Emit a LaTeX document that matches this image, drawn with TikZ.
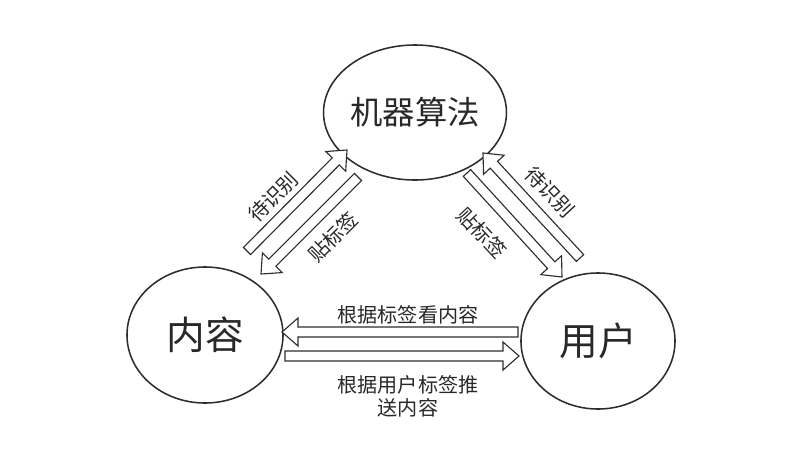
\documentclass[tikz,border=0pt]{standalone}
\usepackage{fontspec}
\usepackage{tikz}
\usetikzlibrary{calc,shapes.geometric}
\setmainfont{Noto Sans CJK SC}
\definecolor{linegray}{RGB}{45,45,45}
\definecolor{textgray}{RGB}{40,40,40}

% 空心箭头: #1 尾端, #2 箭头尖
\newcommand{\hollowarr}[2]{%
  \coordinate (#2h) at ($(#2)!0.4cm!(#1)$);
  \draw[flowarrow] ($(#1)!0.125cm!90:(#2)$) -- ($(#2h)!0.125cm!90:(#2)$)
    -- ($(#2h)!0.35cm!90:(#2)$) -- (#2) -- ($(#2h)!0.35cm!-90:(#2)$)
    -- ($(#2h)!0.125cm!-90:(#2)$) -- ($(#1)!0.125cm!-90:(#2)$) -- cycle;
}

\begin{document}
\begin{tikzpicture}[x=0.025cm, y=-0.025cm,
  bubble/.style={ellipse, draw=linegray, line width=1.1pt, inner sep=0pt, text=textgray},
  flowarrow/.style={draw=linegray, line width=0.8pt, fill=white, line join=miter},
  tag/.style={text=textgray, font=\fontsize{14.3pt}{16.4pt}\selectfont, align=center}]
\useasboundingbox (0,0) rectangle (811,456);

% 三个角色
\node[bubble, minimum width=3.95cm, minimum height=3.375cm, font=\fontsize{23pt}{26pt}\selectfont] (algo) at (415,112.5) {机器算法};
\node[bubble, minimum width=3.9cm, minimum height=3.4cm, font=\fontsize{27.5pt}{30pt}\selectfont] (content) at (205,335) {内容};
\node[bubble, minimum width=3.85cm, minimum height=3.4cm, font=\fontsize{27.5pt}{30pt}\selectfont] (user) at (598,341) {用户};

% 箭头端点
\coordinate (waitLs) at (247,251);
\coordinate (waitLe) at (347,150);
\coordinate (tagLs) at (358,177);
\coordinate (tagLe) at (261,274);
\coordinate (waitRs) at (580,258);
\coordinate (waitRe) at (483,153);
\coordinate (tagRs) at (467,173);
\coordinate (tagRe) at (562,277);
\coordinate (viewS) at (518,332);
\coordinate (viewE) at (282,332);
\coordinate (pushS) at (285,356);
\coordinate (pushE) at (519,356);

\hollowarr{waitLs}{waitLe}
\hollowarr{tagLs}{tagLe}
\hollowarr{waitRs}{waitRe}
\hollowarr{tagRs}{tagRe}
\hollowarr{viewS}{viewE}
\hollowarr{pushS}{pushE}

% 文字
\node[tag, rotate=45] (waitLtxt) at (273,197) {待识别};
\node[tag, rotate=45] (tagLtxt) at (333,237) {贴标签};
\node[tag, rotate=-47] (waitRtxt) at (550,192) {待识别};
\node[tag, rotate=-47] (tagRtxt) at (482,233) {贴标签};
\node[tag] (viewtxt) at (408,315) {根据标签看内容};
\node[tag] (pushtxt) at (408,396.5) {根据用户标签推\\送内容};
\end{tikzpicture}
\end{document}
